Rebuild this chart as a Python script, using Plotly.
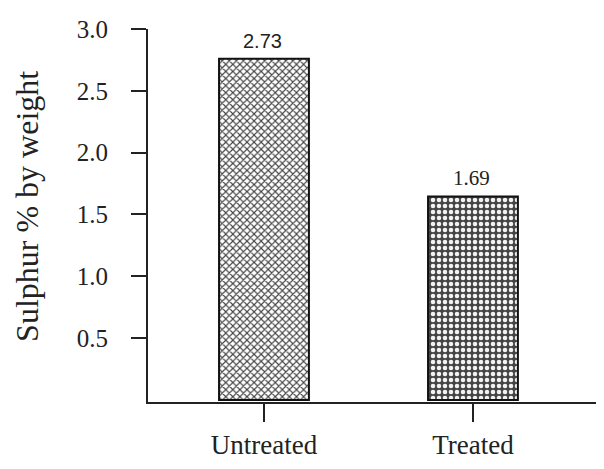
import plotly.graph_objects as go

categories = ["Untreated", "Treated"]
bar_heights = [2.76, 1.645]
bar_labels = ["2.73", "1.69"]
label_fonts = ["Liberation Sans", "Liberation Serif"]
label_sizes = [20, 21]
y_ticks = [0.5, 1.0, 1.5, 2.0, 2.5, 3.0]
y_ticktext = ["0.5", "1.0", "1.5", "2.0", "2.5", "3.0"]
y_title = "Sulphur % by weight"

patterns = [
    dict(shape="x", size=5, solidity=0.4, fgcolor="#444444", bgcolor="#ffffff"),
    dict(shape=".", size=6, solidity=0.45, fgcolor="#f2f2f2", bgcolor="#454545"),
]

fig = go.Figure()
for i in range(len(categories)):
    p = patterns[i]
    fig.add_trace(go.Bar(
        x=[i],
        y=[bar_heights[i]],
        width=0.43,
        marker=dict(
            color=p["bgcolor"],
            line=dict(color="#111111", width=2),
            pattern=dict(
                shape=p["shape"], size=p["size"], solidity=p["solidity"],
                fgcolor=p["fgcolor"], bgcolor=p["bgcolor"], fillmode="replace",
            ),
        ),
        showlegend=False,
        hoverinfo="skip",
    ))
    fig.add_annotation(
        x=i, y=bar_heights[i], text=bar_labels[i], showarrow=False,
        xanchor="center", yanchor="bottom", yshift=5, xshift=-1,
        font=dict(family=label_fonts[i], size=label_sizes[i], color="#222222"),
    )

fig.add_annotation(
    xref="paper", yref="paper", x=-0.266, y=0.525,
    text=y_title, textangle=-90, showarrow=False,
    xanchor="center", yanchor="middle",
    font=dict(family="Liberation Serif", size=32, color="#222222"),
)

fig.update_layout(
    width=604, height=469,
    margin=dict(l=140, r=8, t=15, b=75),
    barmode="overlay",
    paper_bgcolor="#ffffff", plot_bgcolor="#ffffff",
    font=dict(family="Liberation Serif", color="#222222"),
)
fig.update_xaxes(
    range=[-0.555, 1.627],
    tickmode="array", tickvals=[0, 1], ticktext=categories,
    showline=True, linecolor="#222222", linewidth=2,
    ticks="outside", ticklen=18, tickwidth=2, tickcolor="#222222",
    tickfont=dict(family="Liberation Serif", size=27, color="#222222"),
    showgrid=False, zeroline=False,
)
fig.update_yaxes(
    range=[-0.017, 3.0],
    tickmode="array", tickvals=y_ticks, ticktext=y_ticktext,
    showline=True, linecolor="#222222", linewidth=2,
    ticks="outside", ticklen=15, tickwidth=2, tickcolor="#222222",
    ticklabelstandoff=18,
    tickfont=dict(family="Liberation Serif", size=25, color="#222222"),
    showgrid=False, zeroline=False,
)

fig.write_html("out.html")
